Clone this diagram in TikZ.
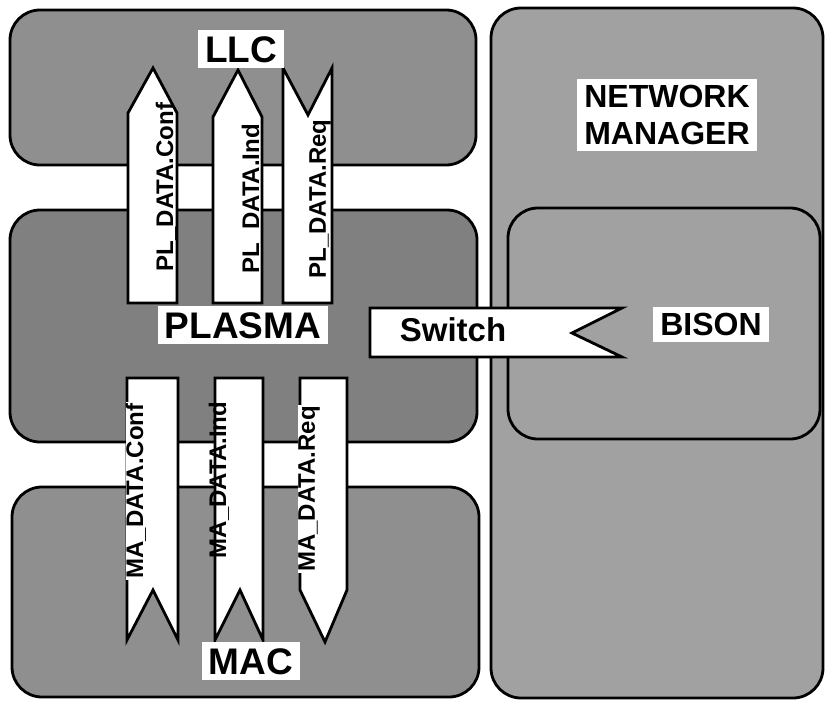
\documentclass[tikz,border=0pt]{standalone}
\usepackage{fontspec}
\setmainfont{Liberation Sans}
\begin{document}
\begin{tikzpicture}[x=1pt,y=-1pt,
  box/.style={draw=black, line width=2.8pt, rounded corners=30pt},
  leftbox/.style={box, fill=black!44},
  rightbox/.style={box, fill=black!37},
  arrowshape/.style={draw=black, fill=white, line width=2.8pt, line join=miter},
  biglab/.style={fill=white, inner xsep=7pt, inner ysep=6pt, text height=26.5pt, text depth=0pt,
    font=\bfseries\fontsize{37}{40}\selectfont},
  midlab/.style={fill=white, inner xsep=7pt, inner ysep=6pt,
    font=\bfseries\fontsize{32}{37}\selectfont},
  vlab/.style={rotate=90, inner sep=0pt, font=\bfseries\fontsize{24}{26}\selectfont},
  vlabw/.style={vlab, fill=white, inner xsep=1pt}]
\useasboundingbox (0,0) rectangle (827,701);
\fill[white] (0,0) rectangle (827,701);

% boxes
\draw[rightbox] (491,8) rectangle (823,698);
\draw[rightbox] (508,208) rectangle (820,439);
\draw[leftbox] (10,10) rectangle (476,165);
\draw[leftbox, fill=black!50] (10,210) rectangle (477,442);
\draw[leftbox] (12,487) rectangle (479,697);

% PL arrows (upper)
\draw[arrowshape] (128,303) -- (128,113) -- (153,68) -- (177,113) -- (177,303) -- cycle;
\draw[arrowshape] (213,303) -- (213,117) -- (238,70) -- (262,117) -- (262,303) -- cycle;
\draw[arrowshape] (283,303) -- (283,68) -- (308,115) -- (332,68) -- (332,303) -- cycle;

% MA arrows (lower)
\draw[arrowshape] (127,378) -- (178,378) -- (178,640) -- (153,590) -- (127,640) -- cycle;
\draw[arrowshape] (215,378) -- (263,378) -- (263,640) -- (240,590) -- (215,640) -- cycle;
\draw[arrowshape] (300,378) -- (347,378) -- (347,590) -- (325,642) -- (300,590) -- cycle;

% Switch arrow
\draw[arrowshape] (370,308) -- (622,308) -- (572,333) -- (622,357) -- (370,357) -- cycle;

% arrow labels
\node[vlab] (plconf) at (166,187) {PL\_DATA.Conf};
\node[vlab] (plind) at (252,199) {PL\_DATA.Ind};
\node[vlab] (plreq) at (320,199) {PL\_DATA.Req};
\node[vlabw] (maconf) at (136,491) {MA\_DATA.Conf};
\node[vlab] (maind) at (219,480) {MA\_DATA.Ind};
\node[vlabw] (mareq) at (309,489) {MA\_DATA.Req};
\node[inner sep=0pt, font=\bfseries\fontsize{33}{36}\selectfont] (switch) at (453,330) {Switch};

% layer labels
\node[biglab] (llc) at (241,49) {LLC};
\node[biglab] (plasma) at (243,325) {PLASMA};
\node[biglab] (mac) at (251,661) {MAC};
\node[midlab, align=center] (nm) at (667,115) {NETWORK\\MANAGER};
\node[midlab, text height=23pt, text depth=0pt, inner ysep=6pt] (bison) at (711,324) {BISON};
\end{tikzpicture}
\end{document}
